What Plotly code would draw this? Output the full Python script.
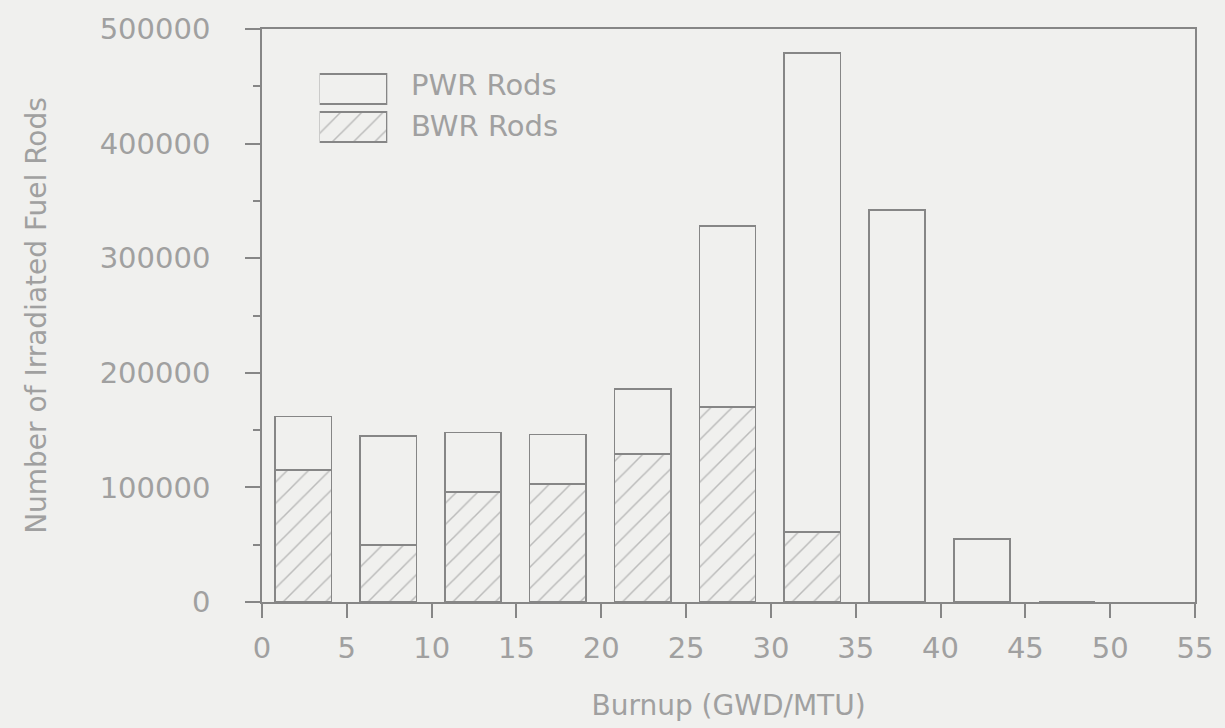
import plotly.graph_objects as go

# Data
bin_start = [0, 5, 10, 15, 20, 25, 30, 35, 40, 45]
total_rods = [162000, 145000, 148000, 146000, 186000, 328000, 479000, 342000, 55000, 0]
bwr_rods = [115000, 50000, 96000, 103000, 129000, 170000, 61000, 0, 0, 0]
pwr_rods = [t - b for t, b in zip(total_rods, bwr_rods)]

x_ticks = [0, 5, 10, 15, 20, 25, 30, 35, 40, 45, 50, 55]
legend_names = ["BWR Rods", "PWR Rods"]

BG = "#f0f0ee"
LINE = "#868686"
TEXT = "#a0a0a0"
FONT = "DejaVu Sans"

fig = go.Figure()

common = dict(width=3.32, offset=0.78, showlegend=False, hoverinfo="skip")
fig.add_trace(go.Bar(
    x=bin_start, y=bwr_rods, name="BWR Rods",
    marker=dict(color=BG, line=dict(color=LINE, width=1.6),
                pattern=dict(shape="/", fgcolor=LINE, bgcolor=BG, size=15, solidity=0.1)),
    **common))
fig.add_trace(go.Bar(
    x=bin_start, y=pwr_rods, name="PWR Rods",
    marker=dict(color=BG, line=dict(color=LINE, width=1.6)),
    **common))

# Legend swatches drawn in a small inset axis
fig.add_trace(go.Bar(
    y=legend_names, x=[1, 1], orientation="h", xaxis="x2", yaxis="y2",
    width=0.78, showlegend=False, hoverinfo="skip",
    marker=dict(color=BG, line=dict(color=LINE, width=1.6),
                pattern=dict(shape=["/", ""], fgcolor=LINE, bgcolor=BG, size=15, solidity=0.1))))

for name, ypos in zip(legend_names, [0.830, 0.903]):
    fig.add_annotation(x=0.158, y=ypos, xref="paper", yref="paper", text=name,
                       showarrow=False, xanchor="left", yanchor="middle",
                       font=dict(family=FONT, size=29, color=TEXT))

fig.update_layout(
    width=1225, height=728,
    margin=dict(l=262, r=25, t=27, b=124),
    paper_bgcolor=BG, plot_bgcolor=BG,
    barmode="stack",
    font=dict(family=FONT, size=29, color=TEXT),
    xaxis=dict(range=[0, 55], tickvals=x_ticks, ticks="outside", ticklen=14,
               tickcolor=LINE, tickwidth=1.6, showline=True, linecolor=LINE, linewidth=1.6,
               mirror=True, showgrid=False, zeroline=False, ticklabelstandoff=5,
               title=dict(text="Burnup (GWD/MTU)", standoff=32,
                          font=dict(family=FONT, size=28, color=TEXT))),
    yaxis=dict(range=[0, 500000], dtick=100000, tickformat="d", ticks="outside", ticklen=15,
               tickcolor=LINE, tickwidth=1.6, showline=True, linecolor=LINE, linewidth=1.6,
               mirror=True, showgrid=False, zeroline=False, ticklabelstandoff=29,
               minor=dict(dtick=50000, ticks="outside", ticklen=7, tickcolor=LINE),
               title=dict(text="Number of Irradiated Fuel Rods", standoff=45,
                          font=dict(family=FONT, size=28, color=TEXT))),
    xaxis2=dict(domain=[0.0618, 0.1343], range=[0, 1], visible=False, anchor="y2"),
    yaxis2=dict(domain=[0.795, 0.929], range=[-0.5, 1.5], visible=False, anchor="x2"),
)

fig.write_html(
    "out.html",
    config={"displayModeBar": False},
    post_script="document.body.style.margin='0';document.body.style.background='#f0f0ee';",
)
